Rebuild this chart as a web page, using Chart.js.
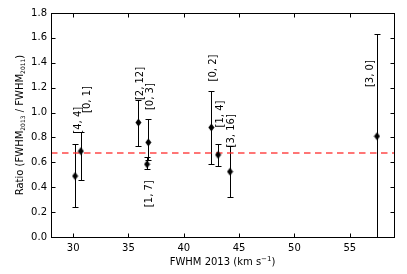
<!DOCTYPE html>
<html>
<head>
<meta charset="utf-8">
<script src="https://cdn.jsdelivr.net/npm/chart.js@4.4.1/dist/chart.umd.min.js"></script>
<style>
html,body{margin:0;padding:0;background:#fff;}
#wrap{width:407px;height:274px;}
</style>
</head>
<body>
<div id="wrap"><canvas id="c" width="407" height="274"></canvas></div>
<script>
// ---- data ----
const fwhm2013 = [30.18, 30.70, 35.90, 36.68, 36.80, 42.49, 43.10, 44.18, 57.46];
const ratio    = [0.49, 0.69, 0.92, 0.585, 0.76, 0.88, 0.66, 0.525, 0.81];
const errLow   = [0.24, 0.46, 0.73, 0.545, 0.62, 0.59, 0.57, 0.32, 0.00];
const errHigh  = [0.745, 0.84, 1.10, 0.64, 0.946, 1.175, 0.747, 0.73, 1.63];
const pointLabels = ['[4, 4]', '[0, 1]', '[2, 12]', '[1, 7]', '[0, 3]', '[0, 2]', '[1, 4]', '[3, 16]', '[3, 0]'];
const labelX = [30.45, 31.26, 36.05, 36.87, 36.96, 42.69, 43.28, 44.27, 56.83];
const labelY = [0.83, 0.997, 1.10, 0.24, 1.02, 1.25, 0.88, 0.72, 1.205];
const meanRatio = 0.675;
const xTicks = [30, 35, 40, 45, 50, 55];
const yTicks = [0.0, 0.2, 0.4, 0.6, 0.8, 1.0, 1.2, 1.4, 1.6, 1.8];
const xRange = [28, 59];
const yRange = [0, 1.8];

const FONT = "'DejaVu Sans', sans-serif";

// thin diamond marker
const marker = document.createElement('canvas');
marker.width = 7; marker.height = 9;
(function(){
  const m = marker.getContext('2d');
  m.fillStyle = '#000';
  m.beginPath();
  m.moveTo(3.5, 0.5); m.lineTo(6.5, 4.5); m.lineTo(3.5, 8.5); m.lineTo(0.5, 4.5);
  m.closePath(); m.fill();
})();

const framePlugin = {
  id: 'frame',
  beforeDatasetsDraw(chart) {
    const ctx = chart.ctx, xs = chart.scales.x, ys = chart.scales.y;
    ctx.save();
    ctx.strokeStyle = '#000';
    ctx.lineWidth = 1;
    for (let i = 0; i < fwhm2013.length; i++) {
      const px = Math.round(xs.getPixelForValue(fwhm2013[i])) + 0.5;
      const pt = Math.round(ys.getPixelForValue(errHigh[i])) + 0.5;
      const pb = Math.round(ys.getPixelForValue(errLow[i])) + 0.5;
      ctx.beginPath();
      ctx.moveTo(px, pt); ctx.lineTo(px, pb);
      ctx.moveTo(px - 3, pt); ctx.lineTo(px + 3, pt);
      ctx.moveTo(px - 3, pb); ctx.lineTo(px + 3, pb);
      ctx.stroke();
    }
    ctx.restore();
  },
  afterDatasetsDraw(chart) {
    const ctx = chart.ctx, xs = chart.scales.x, ys = chart.scales.y;
    const a = chart.chartArea;
    ctx.save();
    // point labels
    ctx.fillStyle = '#000';
    ctx.font = '10px ' + FONT;
    ctx.textAlign = 'left';
    ctx.textBaseline = 'middle';
    for (let i = 0; i < pointLabels.length; i++) {
      const px = xs.getPixelForValue(labelX[i]);
      const py = ys.getPixelForValue(labelY[i]);
      ctx.save();
      ctx.translate(px, py);
      ctx.rotate(-Math.PI / 2);
      ctx.fillText(pointLabels[i], 0, 0);
      ctx.restore();
    }
    // frame
    ctx.strokeStyle = '#000';
    ctx.lineWidth = 1;
    const L = Math.round(a.left) + 0.5, R = Math.round(a.right) + 0.5;
    const T = Math.round(a.top) + 0.5, B = Math.round(a.bottom) + 0.5;
    ctx.strokeRect(L, T, R - L, B - T);
    ctx.beginPath();
    xTicks.forEach(v => {
      const px = Math.round(xs.getPixelForValue(v)) + 0.5;
      ctx.moveTo(px, B); ctx.lineTo(px, B - 4);
      ctx.moveTo(px, T); ctx.lineTo(px, T + 4);
    });
    yTicks.forEach(v => {
      const py = Math.round(ys.getPixelForValue(v)) + 0.5;
      ctx.moveTo(L, py); ctx.lineTo(L + 4, py);
      ctx.moveTo(R, py); ctx.lineTo(R - 4, py);
    });
    ctx.stroke();
    // x title
    ctx.font = '10px ' + FONT;
    ctx.textBaseline = 'alphabetic';
    const cx = (a.left + a.right) / 2;
    const main = 'FWHM 2013 (km s', sup = '\u22121', end = ')';
    const supFont = '7px ' + FONT;
    const w1 = ctx.measureText(main).width;
    const w3 = ctx.measureText(end).width;
    ctx.font = supFont;
    const w2 = ctx.measureText(sup).width;
    let x0 = cx - (w1 + w2 + w3) / 2;
    const by = 265;
    ctx.font = '10px ' + FONT; ctx.fillText(main, x0, by);
    ctx.font = supFont; ctx.fillText(sup, x0 + w1, by - 4);
    ctx.font = '10px ' + FONT; ctx.fillText(end, x0 + w1 + w2, by);
    // y title
    const parts = [
      ['Ratio (FWHM', false], ['2013', true], [' / FWHM', false], ['2011', true], [')', false]
    ];
    let tot = 0;
    parts.forEach(p => { ctx.font = (p[1] ? '6px ' : '10px ') + FONT; p.w = ctx.measureText(p[0]).width; tot += p.w; });
    ctx.save();
    ctx.translate(23, (a.top + a.bottom) / 2);
    ctx.rotate(-Math.PI / 2);
    let tx = -tot / 2;
    parts.forEach(p => {
      ctx.font = (p[1] ? '6px ' : '10px ') + FONT;
      ctx.fillText(p[0], tx, p[1] ? 2 : 0);
      tx += p.w;
    });
    ctx.restore();
    ctx.restore();
  }
};

new Chart(document.getElementById('c'), {
  type: 'scatter',
  data: {
    datasets: [
      {
        label: 'ratio',
        data: fwhm2013.map((x, i) => ({ x: x, y: ratio[i] })),
        pointStyle: marker,
        pointRadius: 4,
        order: 1
      },
      {
        type: 'line',
        label: 'mean',
        data: [{ x: xRange[0], y: meanRatio }, { x: xRange[1], y: meanRatio }],
        borderColor: 'rgba(255,40,40,0.85)',
        borderWidth: 1.5,
        borderDash: [6.5, 4.5],
        pointRadius: 0,
        fill: false,
        order: 2
      }
    ]
  },
  options: {
    responsive: false,
    animation: false,
    devicePixelRatio: 1,
    layout: { padding: { left: 0, right: 13, top: 13, bottom: 0 } },
    plugins: { legend: { display: false }, tooltip: { enabled: false } },
    scales: {
      x: {
        type: 'linear',
        min: xRange[0], max: xRange[1],
        afterBuildTicks: s => { s.ticks = xTicks.map(v => ({ value: v })); },
        afterFit: s => { s.height = 37; },
        grid: { display: false, drawTicks: false },
        border: { display: false },
        ticks: { color: '#000', font: { family: FONT, size: 10 }, padding: 5, maxRotation: 0, callback: v => String(v) }
      },
      y: {
        type: 'linear',
        min: yRange[0], max: yRange[1],
        afterBuildTicks: s => { s.ticks = yTicks.map(v => ({ value: v })); },
        afterFit: s => { s.width = 51; },
        grid: { display: false, drawTicks: false },
        border: { display: false },
        ticks: { color: '#000', font: { family: FONT, size: 10 }, padding: 4, callback: v => Number(v).toFixed(1) }
      }
    }
  },
  plugins: [framePlugin]
});
</script>
</body>
</html>
